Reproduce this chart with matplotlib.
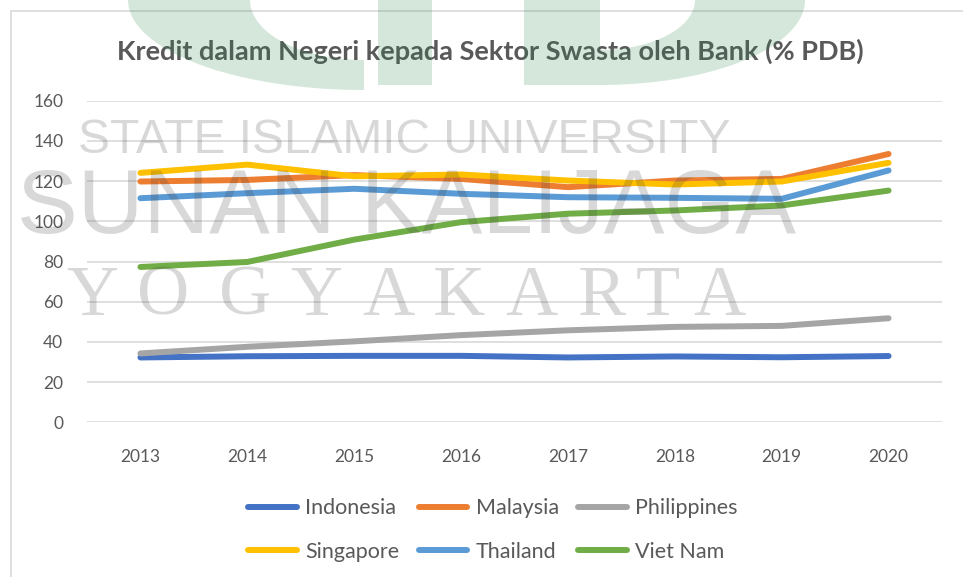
import matplotlib.pyplot as plt
import numpy as np
from matplotlib.patches import Polygon, Rectangle

W, H = 963, 577

years = ['2013', '2014', '2015', '2016', '2017', '2018', '2019', '2020']
indonesia = [32.3, 32.9, 33.1, 33.1, 32.3, 32.8, 32.4, 33.0]
malaysia = [119.8, 120.6, 123.0, 121.1, 117.0, 120.3, 121.1, 133.5]
philippines = [34.3, 37.6, 40.3, 43.4, 45.8, 47.5, 48.0, 51.8]
singapore = [124.1, 128.2, 122.4, 123.3, 120.3, 118.3, 119.8, 129.1]
thailand = [111.5, 114.0, 116.2, 113.7, 112.0, 111.7, 111.2, 125.3]
vietnam = [77.3, 79.8, 90.9, 99.6, 103.8, 105.4, 107.9, 115.3]

names = ['Indonesia', 'Malaysia', 'Philippines', 'Singapore', 'Thailand', 'Viet Nam']
series = [indonesia, malaysia, philippines, singapore, thailand, vietnam]
colors = ['#4472C4', '#ED7D31', '#A5A5A5', '#FFC000', '#5B9BD5', '#70AD47']

plt.rcParams['font.family'] = ['Lato', 'DejaVu Sans']
txt = '#595959'


def fx(x):
    return x / W


def fy(y):
    return 1 - y / H


fig = plt.figure(figsize=(W / 100, H / 100), dpi=100)
ax = fig.add_axes([fx(87), fy(422.4), fx(942) - fx(87), fy(100.7) - fy(422.4)])

x = np.arange(len(years))
lines = []
for name, vals, c in zip(names, series, colors):
    ln, = ax.plot(x, vals, color=c, lw=4.3, label=name,
                  solid_capstyle='round', solid_joinstyle='round')
    lines.append(ln)

ax.set_xlim(-0.5, len(years) - 0.5)
ax.set_ylim(0, 160)
ax.set_yticks(range(0, 161, 20))
ax.set_xticks(x)
ax.set_xticklabels(years)
ax.grid(axis='y', color='#d9d9d9', lw=1.2)
ax.set_axisbelow(True)
for s in ax.spines.values():
    s.set_visible(False)
ax.tick_params(length=0, labelsize=12.5, labelcolor=txt)
ax.tick_params(axis='x', pad=19)
ax.tick_params(axis='y', pad=17)

fig.text(fx(490), fy(60), 'Kredit dalam Negeri kepada Sektor Swasta oleh Bank (% PDB)',
         ha='center', va='baseline', fontsize=19.5, fontweight='bold', color=txt)

# legend filled row by row: 3 per row
order = [0, 3, 1, 4, 2, 5]
fig.legend([lines[i] for i in order], [names[i] for i in order],
           loc='center', bbox_to_anchor=(fx(493), fy(530)), ncol=3, frameon=False,
           fontsize=15.5, labelcolor=txt, handlelength=2.25, handletextpad=0.4,
           columnspacing=0.9, labelspacing=1.1, borderpad=0)

# chart border
fig.add_artist(Rectangle((fx(11), -0.1), 1.2, fy(11) + 0.1, transform=fig.transFigure,
                         fill=False, edgecolor='#d9d9d9', lw=1.2))

# watermark logo
wm_green = (0.18, 0.53, 0.31)


def ring(cx, a_out, b_out, a_in, b_in, left=True):
    t = np.linspace(0, np.pi / 2, 40)
    sgn = -1 if left else 1
    outer = [(cx + sgn * a_out * np.cos(a), b_out * np.sin(a)) for a in t]
    inner = [(cx + sgn * a_in * np.cos(a), b_in * np.sin(a)) for a in t[::-1]]
    return outer + inner


shapes = [
    ring(364, 236, 90, 114, 60, left=True),
    [(378, 0), (432, 0), (432, 85), (378, 85)],
    [(524, 0), (600, 0), (600, 85), (524, 85)],
    ring(600, 205, 85, 95, 50, left=False),
]
for pts in shapes:
    fig.add_artist(Polygon([(fx(a), fy(b)) for a, b in pts], closed=True,
                           transform=fig.transFigure, facecolor=wm_green,
                           edgecolor='none', alpha=0.2, zorder=10))

wm_grey = (0.25, 0.25, 0.25)
fig.text(fx(404), fy(153), 'STATE ISLAMIC UNIVERSITY', ha='center', va='baseline',
         fontsize=34.5, family='Liberation Sans', color=wm_grey, alpha=0.2, zorder=10)
fig.text(fx(406), fy(233), 'SUNAN KALIJAGA', ha='center', va='baseline',
         fontsize=65.5, family='Liberation Sans', color=wm_grey, alpha=0.2, zorder=10)
letter_x = [92, 163, 245, 316, 388, 459, 531, 602, 658, 719]
for lx, ch in zip(letter_x, 'YOGYAKARTA'):
    fig.text(fx(lx), fy(315), ch, ha='center', va='baseline', fontsize=52,
             family='Liberation Serif', color=wm_grey, alpha=0.2, zorder=10)

fig.savefig('out.png', dpi=100)
